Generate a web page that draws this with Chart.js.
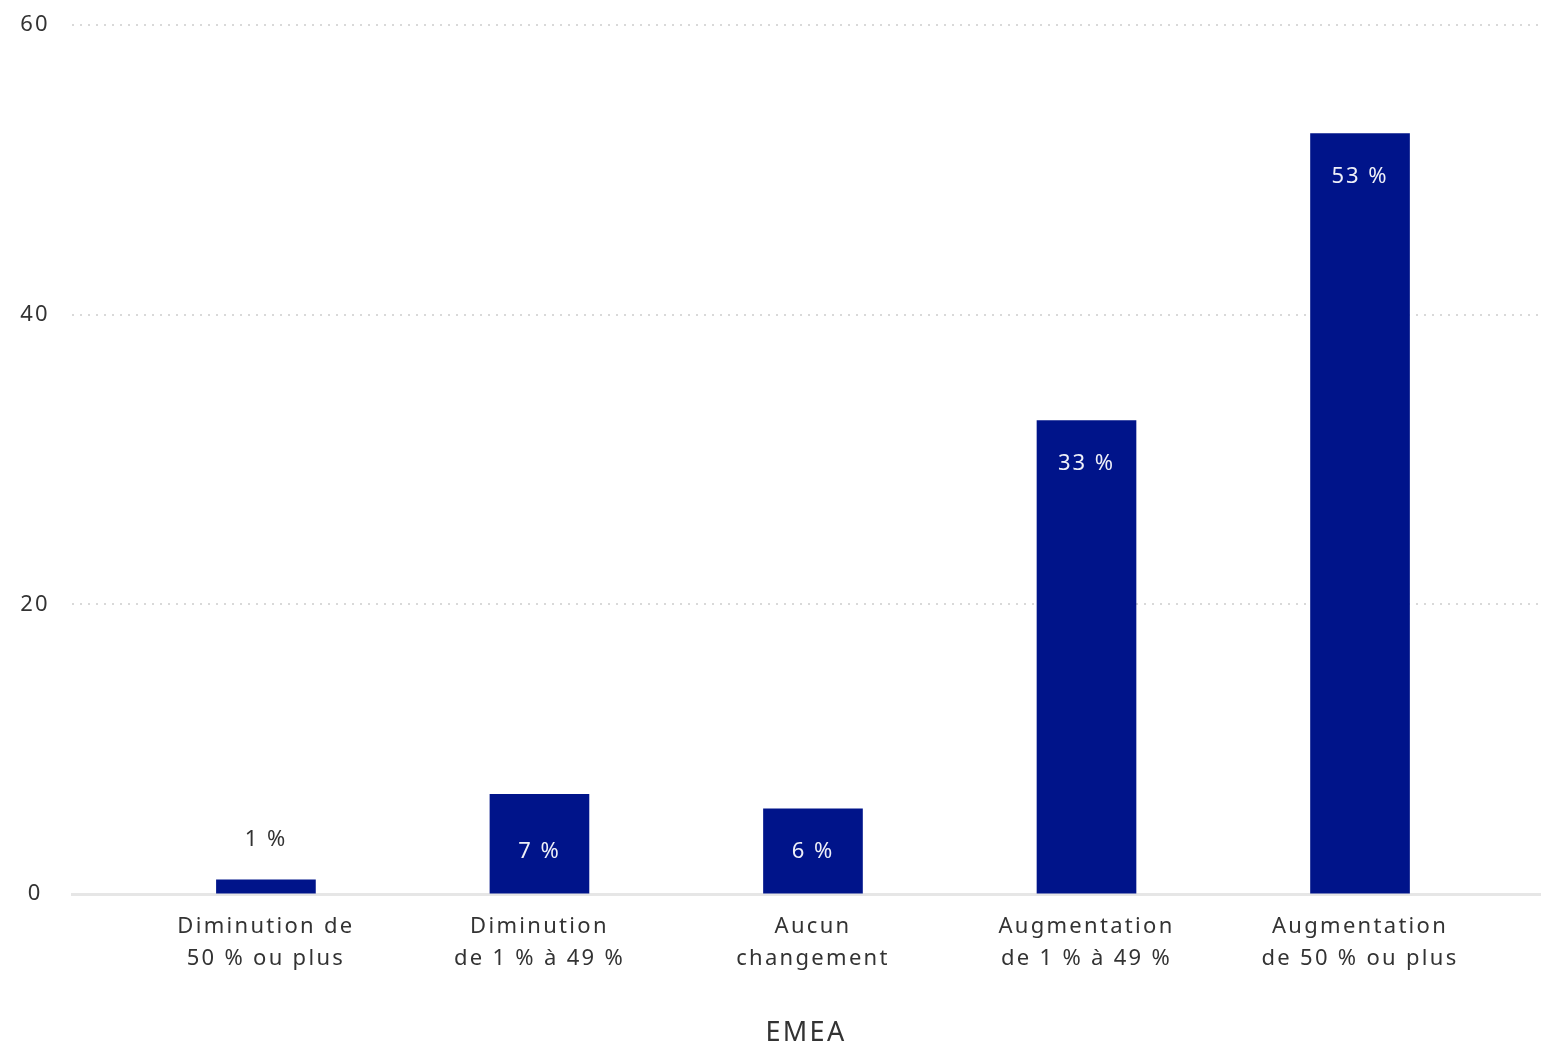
<!DOCTYPE html>
<html>
<head>
<meta charset="utf-8">
<script src="https://cdn.jsdelivr.net/npm/chart.js@4.4.1/dist/chart.umd.min.js"></script>
<style>
  html, body { margin: 0; padding: 0; background: #fff; }
  #wrap { width: 1545px; height: 1047px; }
</style>
</head>
<body>
<div id="wrap"><canvas id="c" width="1545" height="1047"></canvas></div>
<script>
const categories = [
  ["Diminution de", "50 % ou plus"],
  ["Diminution", "de 1 % à 49 %"],
  ["Aucun", "changement"],
  ["Augmentation", "de 1 % à 49 %"],
  ["Augmentation", "de 50 % ou plus"]
];
const values = [1.0, 6.9, 5.9, 32.7, 52.5];
const valueLabelsText = ["1 %", "7 %", "6 %", "33 %", "53 %"];
const yTicks = [0, 20, 40, 60];
const xTitle = "EMEA";

const FONT = "'Noto Sans', Lato, sans-serif";
const BAR = "#00148a";
const TEXT = "#333333";
const LS = '2.3px';

const spacing = {
  id: 'spacing',
  beforeInit(chart) { chart.ctx.letterSpacing = LS; },
  beforeLayout(chart) { chart.ctx.letterSpacing = LS; },
  beforeDraw(chart) { chart.ctx.letterSpacing = LS; }
};

const valueLabels = {
  id: 'valueLabels',
  afterDatasetsDraw(chart) {
    const ctx = chart.ctx;
    const meta = chart.getDatasetMeta(0);
    ctx.save();
    ctx.letterSpacing = '2px';
    ctx.font = "22px " + FONT;
    ctx.textAlign = 'center';
    ctx.textBaseline = 'middle';
    meta.data.forEach((el, i) => {
      const h = el.base - el.y;
      const txt = valueLabelsText[i];
      let ty;
      if (h > 150) {
        ty = el.y + 43;
        ctx.fillStyle = '#eef0f8';
      } else if (h > 50) {
        ty = el.base - 41;
        ctx.fillStyle = '#eef0f8';
      } else {
        ty = el.y - 40;
        ctx.fillStyle = TEXT;
      }
      ctx.fillText(txt, el.x, ty);
    });
    ctx.restore();
  }
};

new Chart(document.getElementById('c'), {
  type: 'bar',
  data: {
    datasets: [{
      data: categories.map((c, i) => ({ x: i, y: values[i] })),
      backgroundColor: BAR,
      barThickness: 99
    }]
  },
  options: {
    responsive: false,
    animation: false,
    layout: { padding: { top: 25, right: 5, bottom: 0, left: 0 } },
    plugins: { legend: { display: false }, tooltip: { enabled: false } },
    scales: {
      x: {
        type: 'linear',
        offset: false,
        min: -0.709,
        max: 4.658,
        afterBuildTicks: s => { s.ticks = categories.map((c, i) => ({ value: i })); },
        grid: { display: false, drawTicks: false },
        border: { display: true, color: '#e6e6e6', width: 3 },
        ticks: {
          autoSkip: false,
          maxRotation: 0,
          padding: 17,
          color: TEXT,
          font: { family: FONT, size: 22, lineHeight: 1.45 },
          callback: (v) => categories[v]
        },
        title: {
          display: true,
          text: xTitle,
          color: TEXT,
          font: { family: FONT, size: 27, lineHeight: 1.0 },
          padding: { top: 28, bottom: 0 }
        }
      },
      y: {
        min: 0,
        max: 60,
        afterBuildTicks: s => { s.ticks = yTicks.map(v => ({ value: v })); },
        afterFit: s => { s.width = 72; s.paddingTop = 0; },
        grid: { color: '#d9d9d9', lineWidth: 2, drawTicks: false },
        border: { display: false, dash: [2, 6] },
        ticks: {
          padding: 22,
          crossAlign: 'center',
          color: TEXT,
          font: { family: FONT, size: 22 }
        }
      }
    }
  },
  plugins: [spacing, valueLabels]
});
</script>
</body>
</html>
